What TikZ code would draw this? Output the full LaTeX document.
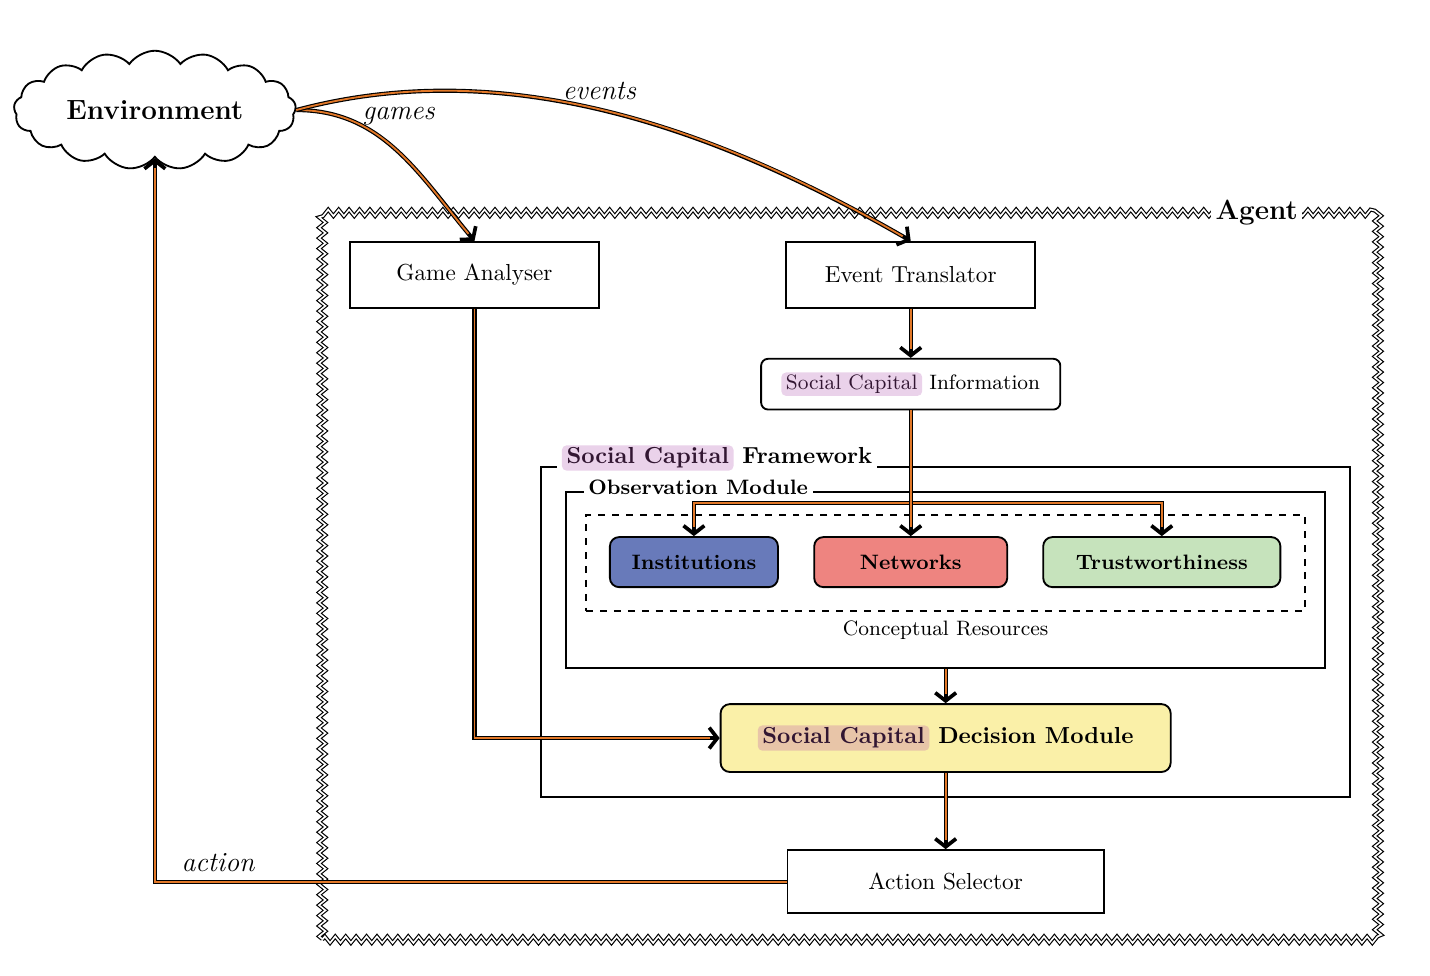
\documentclass[tikz,border=0pt]{standalone}
\usetikzlibrary{shapes.symbols,decorations.pathmorphing,arrows.meta}

\definecolor{scpink}{RGB}{234,210,234}
\definecolor{scpeach}{RGB}{232,197,168}
\definecolor{sctext}{RGB}{50,22,50}
\definecolor{flowline}{RGB}{226,120,40}
\definecolor{instblue}{RGB}{104,122,186}
\definecolor{netred}{RGB}{238,132,128}
\definecolor{trustgreen}{RGB}{198,227,188}
\definecolor{decyellow}{RGB}{250,240,168}

% highlighted "Social Capital"
\newcommand{\schl}[2][scpink]{\tikz[baseline=(hl.base)]\node[fill=#1, draw=none, rounded corners=2pt, minimum width=0pt, minimum height=0pt, inner xsep=2pt, inner ysep=1pt, anchor=center, text=sctext] (hl) {#2};}

\begin{document}
\begin{tikzpicture}[box/.style = {draw, thick, minimum width=3.78cm, minimum height=1cm},
    roundbox/.style = {draw, thick, rounded corners=3pt},
    resource/.style = {draw, thick, rounded corners=4pt, font=\small\bfseries, minimum height=0.76cm},
    module/.style = {draw, thick},
    frametitle/.style = {fill=white, font=\bfseries, inner sep=2pt},
    flow/.style = {-{Straight Barb[length=3.5pt, width=9pt, line width=1.6pt]}, line width=1.8pt, postaction={draw=flowline, line width=0.8pt, -, shorten >=4pt}},
    agentframe/.style = {draw, double, double distance=0.7pt, line width=0.5pt, decorate, decoration={zigzag, segment length=4.5pt, amplitude=1.4pt}}]
    \useasboundingbox (0,0) rectangle (21.70,14.81);

    \node[cloud, draw, thick, cloud puffs=17, cloud puff arc=110, aspect=2.6, minimum width=4.28cm, minimum height=1.64cm, inner sep=0pt, font=\large\bfseries] (env) at (2.35,13.14) {Environment};

    % agent
    \draw[agentframe] (4.89,0.55) -- (20.91,0.55) -- (20.91,11.58) -- (4.89,11.58) -- cycle;
    \node[frametitle, font=\large\bfseries] (agent) at (19.07,11.58) {Agent};

    \node[box] (ga) at (7.20,10.64) {Game Analyser};
    \node[box] (et) at (13.82,10.64) {Event Translator};
    \node[roundbox, minimum width=4.54cm, minimum height=0.77cm, font=\small] (sci) at (13.82,8.98) {\schl{Social Capital} Information};

    % framework
    \node[module, minimum width=12.28cm, minimum height=5cm] (scf) at (14.35,5.22) {};
    \node[frametitle, anchor=west] (scftitle) at (8.45,7.86) {\schl{Social Capital} Framework};
    \node[module, minimum width=11.52cm, minimum height=2.67cm] (obs) at (14.35,6.005) {};
    \node[frametitle, font=\small\bfseries, anchor=west] (obstitle) at (8.85,7.42) {Observation Module};
    \node[draw, thick, dashed, minimum width=10.91cm, minimum height=1.45cm] (cr) at (14.35,6.265) {};
    \node[font=\small] (crlabel) at (14.35,5.25) {Conceptual Resources};

    \node[resource, fill=instblue, minimum width=2.55cm] (inst) at (10.53,6.28) {Institutions};
    \node[resource, fill=netred, minimum width=2.93cm] (net) at (13.82,6.28) {Networks};
    \node[resource, fill=trustgreen, minimum width=3.60cm] (trust) at (17.63,6.28) {Trustworthiness};

    \node[resource, fill=decyellow, font=\bfseries, minimum width=6.83cm, minimum height=1.03cm] (dm) at (14.35,3.61) {\schl[scpeach]{Social Capital} Decision Module};
    \node[box, minimum width=4.80cm, minimum height=0.96cm] (as) at (14.35,1.43) {Action Selector};

    \coordinate (split) at (13.82,7.18);

    \draw[flow] (env.east) to[out=0, in=130] node[pos=0.25, right, yshift=2pt] {\large\itshape games} (ga.north);
    \draw[flow] (env.east) to[out=15, in=150, looseness=0.9] node[pos=0.48, above] {\large\itshape events} (et.north);
    \draw[flow] (et.south) -- (sci.north);
    \draw[flow] (sci.south) -- (split) -| (inst.north);
    \draw[flow] (sci.south) -- (split) -| (trust.north);
    \draw[flow] (sci.south) -- (net.north);
    \draw[flow] (obs.south) -- (dm.north);
    \draw[flow] (ga.south) |- (dm.west);
    \draw[flow] (dm.south) -- (as.north);
    \draw[flow] (as.west) -| node[pos=0.45, above] {\large\itshape action} (env.south);
\end{tikzpicture}
\end{document}
